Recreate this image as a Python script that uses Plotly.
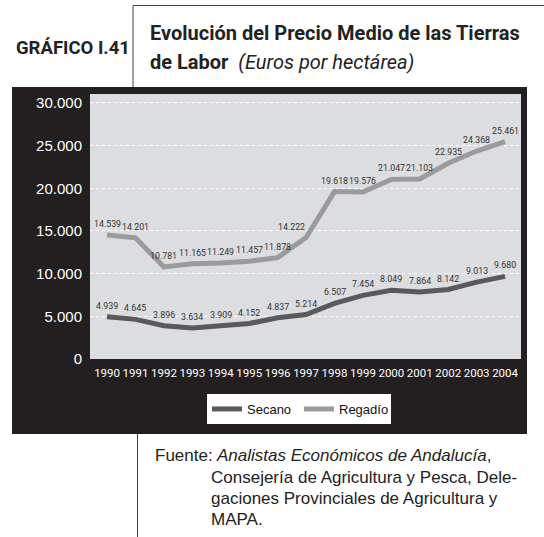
import plotly.graph_objects as go

# Average price of arable land, euros per hectare
years = [1990, 1991, 1992, 1993, 1994, 1995, 1996, 1997, 1998, 1999, 2000, 2001, 2002, 2003, 2004]
secano = [4939, 4645, 3896, 3634, 3909, 4152, 4837, 5214, 6507, 7454, 8049, 7864, 8142, 9013, 9680]
regadio = [14539, 14201, 10781, 11165, 11249, 11457, 11878, 14222, 19618, 19576, 21047, 21103, 22935, 24368, 25461]
y_ticks = [0, 5000, 10000, 15000, 20000, 25000, 30000]

W, H = 544, 537
L, R, T, B = 90, 521, 94, 359   # plot area in pixels

def fx(px):
    return (px - L) / (R - L)

def fy(py):
    return (B - py) / (B - T)

def es_num(v):
    return f"{v:,}".replace(",", ".")

NARROW = "Roboto, 'DejaVu Sans Condensed', sans-serif"
SANS = "'Liberation Sans', Arial, sans-serif"
DARK = "#231f20"
TXT = "#222"

fig = go.Figure()
fig.add_trace(go.Scatter(
    x=years, y=secano, name="Secano", mode="lines",
    line=dict(color="#5a5a5c", width=5), cliponaxis=False,
))
fig.add_trace(go.Scatter(
    x=years, y=regadio, name="Regadío", mode="lines",
    line=dict(color="#9b9b9d", width=5), cliponaxis=False,
))

shapes = [
    # dark frame behind the chart
    dict(type="rect", xref="paper", yref="paper", layer="below",
         x0=fx(12), x1=fx(527), y0=fy(434), y1=fy(87),
         fillcolor=DARK, line=dict(width=0)),
    # light plotting panel
    dict(type="rect", xref="paper", yref="paper", layer="below",
         x0=0, x1=1, y0=0, y1=1,
         fillcolor="#dcdde0", line=dict(width=0)),
    # heading rules
    dict(type="line", xref="paper", yref="paper", x0=fx(133), x1=fx(544),
         y0=fy(5.5), y1=fy(5.5), line=dict(color="#444", width=1)),
    dict(type="line", xref="paper", yref="paper", x0=fx(133), x1=fx(133),
         y0=fy(5.5), y1=fy(87), line=dict(color="#444", width=1)),
    # source rule
    dict(type="line", xref="paper", yref="paper", x0=fx(137.5), x1=fx(137.5),
         y0=fy(434), y1=fy(537), line=dict(color="#444", width=1)),
]

annotations = [
    dict(text="<b>GRÁFICO I.41</b>", x=fx(14), y=fy(48), xanchor="left", yanchor="middle",
         font=dict(family=NARROW, size=18.5, color=TXT)),
    dict(text="<b>Evolución del Precio Medio de las Tierras</b>", x=fx(148), y=fy(33),
         xanchor="left", yanchor="middle", font=dict(family=NARROW, size=20, color=TXT)),
    dict(text="<b>de Labor</b>  <i>(Euros por hectárea)</i>", x=fx(148), y=fy(62),
         xanchor="left", yanchor="middle", font=dict(family=NARROW, size=20, color=TXT)),
    dict(text="Fuente:", x=fx(153), y=fy(455), xanchor="left", yanchor="middle",
         font=dict(family=SANS, size=17, color=TXT)),
    dict(text="<i>Analistas Económicos de Andalucía</i>,", x=fx(214), y=fy(455),
         xanchor="left", yanchor="middle", font=dict(family=SANS, size=17, color=TXT)),
    dict(text="Consejería de Agricultura y Pesca, Dele-", x=fx(209), y=fy(477),
         xanchor="left", yanchor="middle", font=dict(family=SANS, size=17, color=TXT)),
    dict(text="gaciones Provinciales de Agricultura y", x=fx(209), y=fy(498),
         xanchor="left", yanchor="middle", font=dict(family=SANS, size=17, color=TXT)),
    dict(text="MAPA.", x=fx(209), y=fy(519), xanchor="left", yanchor="middle",
         font=dict(family=SANS, size=17, color=TXT)),
]
for a in annotations:
    a.update(xref="paper", yref="paper", showarrow=False)

# value labels above each point; the 1997 irrigated label is nudged left
# so it clears the steep rise that follows
nudge = {("regadio", 1997): -15}
for key, series in (("secano", secano), ("regadio", regadio)):
    for yr, v in zip(years, series):
        annotations.append(dict(
            x=yr, y=v, xref="x", yref="y", text=es_num(v), showarrow=False,
            yshift=11, xshift=nudge.get((key, yr), 0),
            xanchor="center", yanchor="middle",
            font=dict(family=NARROW, size=8.8, color="#333333"),
        ))

fig.update_layout(
    width=W, height=H,
    margin=dict(l=L, r=W - R, t=T, b=H - B, pad=0),
    paper_bgcolor="white",
    plot_bgcolor="rgba(0,0,0,0)",
    separators=",.",
    showlegend=True,
    legend=dict(orientation="h", x=fx(207), y=fy(394), xanchor="left", yanchor="top",
                bgcolor="white", font=dict(family=SANS, size=13, color="#111"),
                entrywidth=47, tracegroupgap=0),
    shapes=shapes,
    annotations=annotations,
    xaxis=dict(range=[1989.4, 2004.56], tickmode="array", tickvals=years,
               ticktext=[str(y) for y in years], showgrid=False, zeroline=False,
               showline=False, ticks="", ticklabelstandoff=5, tickangle=0,
               tickfont=dict(family=NARROW, size=11.5, color="white")),
    yaxis=dict(range=[0, 31050], tickmode="array", tickvals=y_ticks, tickformat=",d",
               showgrid=True, gridcolor="white", griddash="3px,3px", gridwidth=1,
               zeroline=False, showline=False, ticks="", ticklabelstandoff=7,
               tickfont=dict(family=SANS, size=15, color="white")),
)

fig.write_html("out.html")
